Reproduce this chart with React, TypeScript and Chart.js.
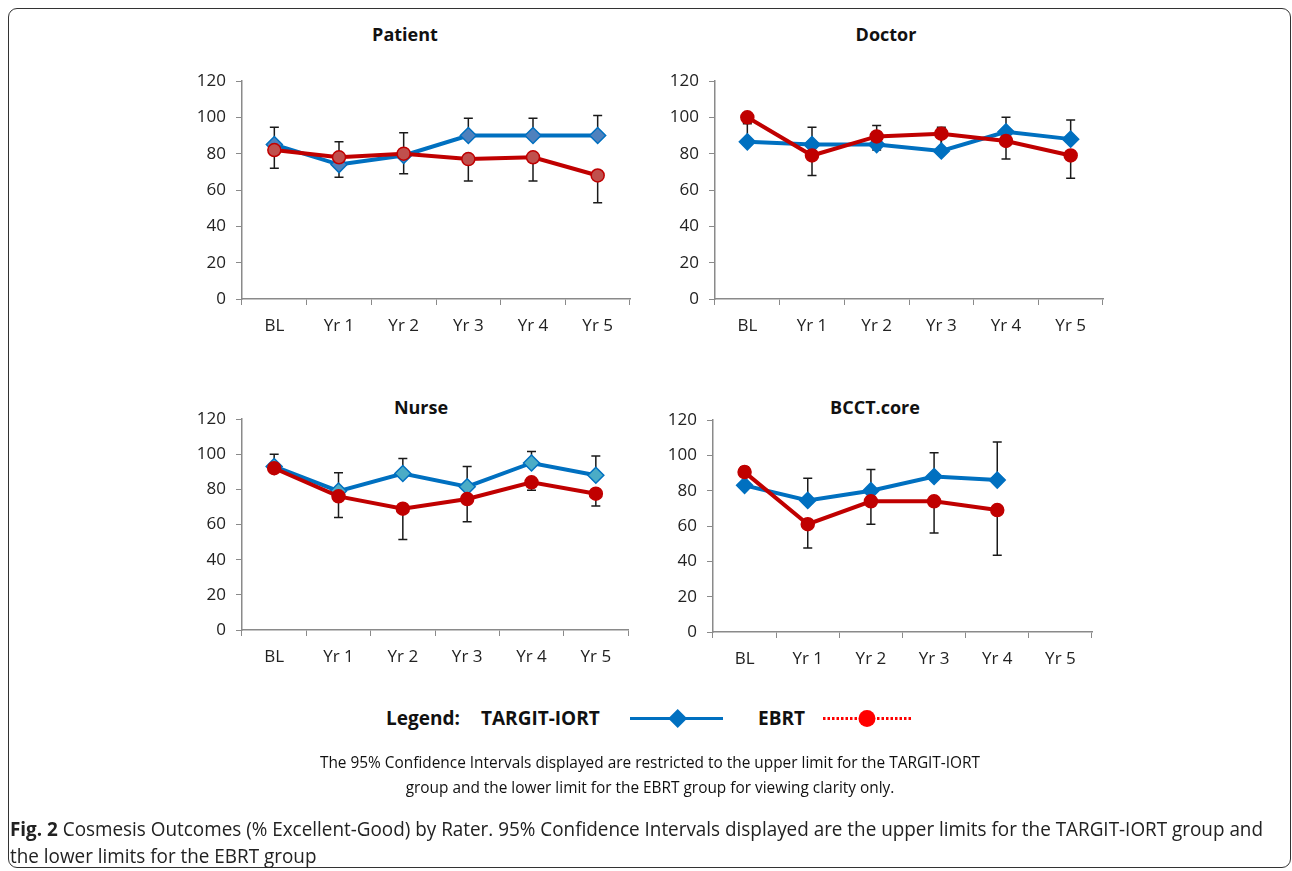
import React, { useEffect, useRef } from "react";
import { Chart, registerables } from "chart.js";

Chart.register(...registerables);

const categories = ["BL", "Yr 1", "Yr 2", "Yr 3", "Yr 4", "Yr 5"];
const yTicks = [0, 20, 40, 60, 80, 100, 120];

const patientTargit = [85, 74, 79, 90, 90, 90];
const patientTargitUpper = [94.5, 86.5, 91.5, 99.5, 99.5, 101];
const patientEbrt = [82, 78, 80, 77, 78, 68];
const patientEbrtLower = [72, 67, 69, 65, 65, 53];

const doctorTargit = [86.5, 85, 85, 81.5, 92, 88];
const doctorTargitUpper = [96.5, 94.5, 95.5, 94.5, 100, 98.5];
const doctorEbrt = [100, 79, 89.5, 91, 87, 79];
const doctorEbrtLower = [98, 68, 82, 82, 77, 66.5];

const nurseTargit = [93, 79, 89, 81.5, 95, 88];
const nurseTargitUpper = [100, 89.5, 97.5, 93, 101.5, 99];
const nurseEbrt = [92, 76, 69, 74.5, 84, 77.5];
const nurseEbrtLower = [90, 64, 51.5, 61.5, 79.5, 70.5];

const bcctTargit = [83, 74.5, 80, 88, 86, null];
const bcctTargitUpper = [93.5, 87, 92, 101.5, 107.5, null];
const bcctEbrt = [90.5, 61, 74, 74, 69, null];
const bcctEbrtLower = [89, 47.5, 61, 56, 43.5, null];

const BLUE = "#0070C0";
const RED = "#C00000";
const TICK_FONT = "'Open Sans', 'DejaVu Sans', sans-serif";

const errorBarPlugin = {
  id: "errorBars",
  beforeDatasetsDraw(chart: any) {
    const ctx = chart.ctx;
    const yScale = chart.scales.y;
    ctx.save();
    ctx.strokeStyle = "#1a1a1a";
    ctx.lineWidth = 1.5;
    chart.data.datasets.forEach((ds: any, i: number) => {
      const ends = ds.errorEnds;
      if (!ends) return;
      const meta = chart.getDatasetMeta(i);
      meta.data.forEach((pt: any, j: number) => {
        const v = ds.data[j];
        const e = ends[j];
        if (v == null || e == null) return;
        const x = pt.x;
        const y0 = yScale.getPixelForValue(v);
        const y1 = yScale.getPixelForValue(e);
        ctx.beginPath();
        ctx.moveTo(x, y0);
        ctx.lineTo(x, y1);
        ctx.moveTo(x - 4.5, y1);
        ctx.lineTo(x + 4.5, y1);
        ctx.stroke();
      });
    });
    ctx.restore();
  },
};

type PanelProps = {
  left: number;
  top: number;
  width: number;
  height: number;
  targit: (number | null)[];
  targitUpper: (number | null)[];
  ebrt: (number | null)[];
  ebrtLower: (number | null)[];
  blueFill: string;
  redFill: string;
};

function Panel(p: PanelProps) {
  const ref = useRef<HTMLCanvasElement | null>(null);
  useEffect(() => {
    if (!ref.current) return;
    const chart = new Chart(ref.current, {
      type: "line",
      data: {
        labels: categories,
        datasets: [
          {
            label: "TARGIT-IORT",
            data: p.targit,
            errorEnds: p.targitUpper,
            borderColor: BLUE,
            borderWidth: 4,
            backgroundColor: p.blueFill,
            pointStyle: "rectRot",
            pointRadius: 8,
            pointBorderWidth: 1.5,
            pointBorderColor: BLUE,
            pointBackgroundColor: p.blueFill,
            tension: 0,
            order: 2,
          } as any,
          {
            label: "EBRT",
            data: p.ebrt,
            errorEnds: p.ebrtLower,
            borderColor: RED,
            borderWidth: 4,
            backgroundColor: p.redFill,
            pointStyle: "circle",
            pointRadius: 6.5,
            pointBorderWidth: 1.5,
            pointBorderColor: RED,
            pointBackgroundColor: p.redFill,
            tension: 0,
            order: 1,
          } as any,
        ],
      },
      options: {
        animation: false,
        responsive: false,
        maintainAspectRatio: false,
        layout: { padding: { top: 25, right: 10, left: 0, bottom: 0 } },
        plugins: {
          legend: { display: false },
          title: { display: false },
          tooltip: { enabled: false },
        },
        scales: {
          x: {
            type: "category",
            offset: true,
            grid: {
              display: true,
              drawOnChartArea: false,
              drawTicks: true,
              tickLength: 6,
              color: "#8a8a8a",
              offset: true,
            },
            border: { color: "#8a8a8a", width: 1.5 },
            ticks: {
              color: "#222",
              padding: 11,
              maxRotation: 0,
              font: { family: TICK_FONT, size: 17 },
            },
            afterFit: (s: any) => {
              s.height = 40;
            },
          },
          y: {
            type: "linear",
            min: 0,
            max: 120,
            afterBuildTicks: (s: any) => {
              s.ticks = yTicks.map((v) => ({ value: v }));
            },
            grid: {
              display: true,
              drawOnChartArea: false,
              drawTicks: true,
              tickLength: 6,
              color: "#8a8a8a",
            },
            border: { color: "#8a8a8a", width: 1.5 },
            ticks: {
              color: "#222",
              padding: 10,
              font: { family: TICK_FONT, size: 17 },
            },
            afterFit: (s: any) => {
              s.width = 60;
            },
          },
        },
      } as any,
      plugins: [errorBarPlugin],
    });
    return () => chart.destroy();
  }, []);
  return (
    <canvas
      ref={ref}
      width={p.width}
      height={p.height}
      style={{
        position: "absolute",
        left: p.left,
        top: p.top,
        width: p.width,
        height: p.height,
      }}
    />
  );
}

const titleStyle = (cx: number, cy: number): React.CSSProperties => ({
  position: "absolute",
  left: cx - 100,
  top: cy - 13,
  width: 200,
  textAlign: "center",
  fontFamily: TICK_FONT,
  fontWeight: 700,
  fontSize: 18,
  lineHeight: "26px",
  color: "#111",
});

const legendText = (left: number): React.CSSProperties => ({
  position: "absolute",
  left,
  top: 705,
  fontFamily: TICK_FONT,
  fontWeight: 700,
  fontSize: 19,
  lineHeight: "26px",
  color: "#111",
  whiteSpace: "nowrap",
});

export default function App() {
  return (
    <div
      style={{
        position: "fixed",
        left: 0,
        top: 0,
        width: 1292,
        height: 871,
        background: "#fff",
        overflow: "hidden",
      }}
    >
      <div
        style={{
          position: "absolute",
          left: 8,
          top: 8,
          width: 1281,
          height: 858,
          border: "1.5px solid #333",
          borderRadius: 9,
        }}
      />
      <div style={titleStyle(405, 34)}>Patient</div>
      <div style={titleStyle(886, 34)}>Doctor</div>
      <div style={titleStyle(421, 407)}>Nurse</div>
      <div style={titleStyle(875, 407)}>BCCT.core</div>

      <Panel
        left={182}
        top={56}
        width={458}
        height={283}
        targit={patientTargit}
        targitUpper={patientTargitUpper}
        ebrt={patientEbrt}
        ebrtLower={patientEbrtLower}
        blueFill="#4F81BD"
        redFill="#C0504D"
      />
      <Panel
        left={655}
        top={56}
        width={458}
        height={283}
        targit={doctorTargit}
        targitUpper={doctorTargitUpper}
        ebrt={doctorEbrt}
        ebrtLower={doctorEbrtLower}
        blueFill={BLUE}
        redFill={RED}
      />
      <Panel
        left={182}
        top={394}
        width={456}
        height={276}
        targit={nurseTargit}
        targitUpper={nurseTargitUpper}
        ebrt={nurseEbrt}
        ebrtLower={nurseEbrtLower}
        blueFill="#4BACC6"
        redFill={RED}
      />
      <Panel
        left={653}
        top={395}
        width={449}
        height={277}
        targit={bcctTargit}
        targitUpper={bcctTargitUpper}
        ebrt={bcctEbrt}
        ebrtLower={bcctEbrtLower}
        blueFill={BLUE}
        redFill={RED}
      />

      {/* Legend */}
      <div style={legendText(386)}>Legend:</div>
      <div style={legendText(481)}>TARGIT-IORT</div>
      <div style={legendText(758)}>EBRT</div>
      <svg
        width={1292}
        height={871}
        style={{ position: "absolute", left: 0, top: 0, pointerEvents: "none" }}
      >
        <line x1={630} y1={718.5} x2={723} y2={718.5} stroke={BLUE} strokeWidth={3} />
        <polygon points="677.7,709 687.2,718.5 677.7,728 668.2,718.5" fill={BLUE} />
        <line
          x1={823}
          y1={718.5}
          x2={913}
          y2={718.5}
          stroke="#FF0000"
          strokeWidth={3}
          strokeDasharray="2.5 2"
        />
        <circle cx={867} cy={718.5} r={8.5} fill="#FF0000" />
      </svg>

      <div
        style={{
          position: "absolute",
          left: 250,
          top: 750,
          width: 800,
          textAlign: "center",
          fontFamily: TICK_FONT,
          fontSize: 15.4,
          lineHeight: "25px",
          color: "#111",
        }}
      >
        The 95% Confidence Intervals displayed are restricted to the upper limit for the TARGIT-IORT
        <br />
        group and the lower limit for the EBRT group for viewing clarity only.
      </div>

      <div
        style={{
          position: "absolute",
          left: 10,
          top: 815,
          width: 1400,
          fontFamily: TICK_FONT,
          fontSize: 20,
          lineHeight: "27px",
          color: "#222",
          whiteSpace: "nowrap",
          transform: "scaleX(0.944)",
          transformOrigin: "0 0",
        }}
      >
        <b>Fig. 2</b> Cosmesis Outcomes (% Excellent-Good) by Rater. 95% Confidence Intervals
        displayed are the upper limits for the TARGIT-IORT group and
        <br />
        the lower limits for the EBRT group
      </div>
    </div>
  );
}
